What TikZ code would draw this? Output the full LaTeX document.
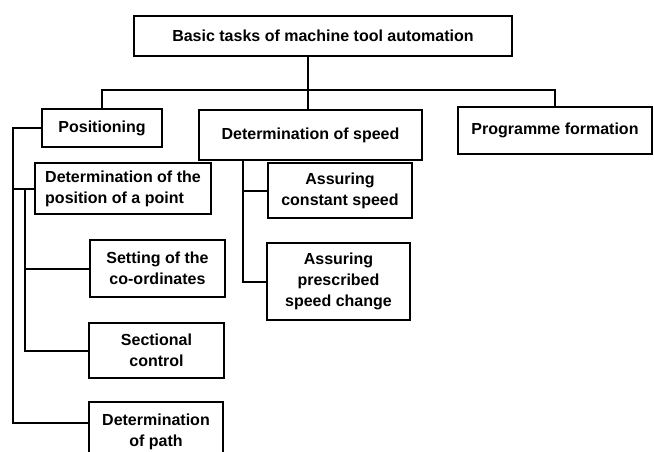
\documentclass[tikz,border=0pt]{standalone}
\usepackage{fontspec}
\setmainfont{Liberation Sans}
\usepackage{tikz}

\tikzset{
	task/.style={draw,line width=2.4pt,align=center,inner sep=2pt,
		font=\bfseries\fontsize{16}{21}\selectfont},
	link/.style={line width=2pt}
}

\begin{document}
\begin{tikzpicture}[x=1pt,y=-1pt]
	\useasboundingbox (0,0) rectangle (654,452);
	\clip (0,0) rectangle (654,452);
	% first level
	\node[task,minimum width=378,minimum height=40] (top) at (323,36)
		{Basic tasks of machine tool automation};
	\node[task,minimum width=120,minimum height=38] (pos) at (102,128) {Positioning};
	\node[task,minimum width=223,minimum height=50] (speed) at (310.5,135)
		{Determination of speed};
	\node[task,minimum width=194,minimum height=47] (prog) at (555,130.5)
		{Programme formation};
	% positioning branch
	\node[task,align=left,minimum width=176,minimum height=51] (point) at (123,188.5)
		{Determination of the\\position of a point};
	\node[task,minimum width=135,minimum height=57] (coord) at (157.5,268.5)
		{Setting of the\\co-ordinates};
	\node[task,minimum width=135,minimum height=55] (sect) at (156.5,350.5)
		{Sectional\\control};
	\node[task,minimum width=134,minimum height=60] (path) at (156,432)
		{Determination\\of path};
	% speed branch
	\node[task,minimum width=144,minimum height=55] (const) at (340,190.5)
		{Assuring\\constant speed};
	\node[task,minimum width=143,minimum height=77] (change) at (338.5,281.5)
		{Assuring\\prescribed\\speed change};

	\coordinate (bar) at (308,90);
	\coordinate (trunk) at (13,0);
	\coordinate (inner) at (25,0);
	\draw[link] (bar |- top.south) -- (bar |- speed.north);
	\draw[link] (pos.north) |- (bar) -| (prog.north);

	\draw[link] (pos.west) -| ([yshift=9pt]trunk |- path.west) -- ([yshift=9pt]path.west);
	\draw[link] (trunk |- point.west) -- (point.west);
	\draw[link] (inner |- point.west) |- (sect.west);
	\draw[link] (inner |- coord.west) -- (coord.west);

	\draw[link] ([xshift=45pt]speed.south west) coordinate (spine) |- (change.west);
	\draw[link] (spine |- const.west) -- (const.west);
\end{tikzpicture}
\end{document}
